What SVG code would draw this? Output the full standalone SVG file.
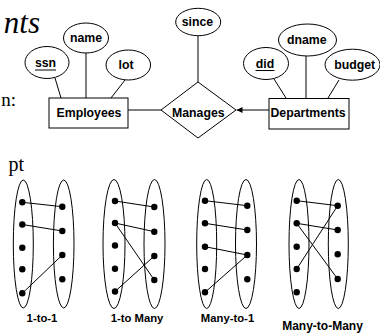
<svg xmlns="http://www.w3.org/2000/svg" width="380" height="334" viewBox="0 0 380 334">
<defs>
<style>
.s{fill:none;stroke:#000;stroke-width:1}
.b{fill:#fff;stroke:#000;stroke-width:1}
.t{font-family:"Liberation Sans",Arial,sans-serif;font-weight:bold;font-size:12.3px;text-anchor:middle;fill:#000}
.l{font-family:"Liberation Sans",Arial,sans-serif;font-weight:bold;font-size:11.3px;text-anchor:middle;fill:#000}
.bg{font-family:"Liberation Serif","Times New Roman",serif;fill:#000;text-anchor:end}
.d{fill:#000}
</style>
<marker id="ah" viewBox="0 0 10 10" refX="10" refY="5" markerWidth="6" markerHeight="6" markerUnits="userSpaceOnUse" orient="auto">
<path d="M0,0 L10,5 L0,10 z" fill="#000"/>
</marker>
</defs>
<rect width="380" height="334" fill="#fff"/>
<text class="bg" x="40" y="33" font-size="31" font-style="italic">nts</text>
<text class="bg" x="16" y="106" font-size="19">n:</text>
<text class="bg" x="24" y="171" font-size="20">pt</text>

<g id="connectors">
<line class="s" x1="55" y1="78" x2="61" y2="98"/>
<line class="s" x1="86" y1="53" x2="86" y2="98"/>
<line class="s" x1="125" y1="80" x2="111" y2="98"/>
<line class="s" x1="198" y1="36" x2="198" y2="82"/>
<line class="s" x1="274" y1="79" x2="286" y2="98"/>
<line class="s" x1="306" y1="56" x2="306" y2="98"/>
<line class="s" x1="339" y1="80" x2="328" y2="98"/>
<line class="s" x1="128" y1="110" x2="161" y2="110"/>
<line class="s" x1="269" y1="110" x2="236.5" y2="110" marker-end="url(#ah)"/>
</g>

<g id="Employees"><rect class="b" x="49" y="98" width="79" height="30"/><text class="t" x="89" y="116.5">Employees</text></g>
<g id="Manages"><polygon class="b" points="161,110 198,82 236,110 198,138"/><text class="t" x="198.3" y="116.5">Manages</text></g>
<g id="Departments"><rect class="b" x="269" y="98.5" width="80" height="30.5"/><text class="t" x="308" y="116.8">Departments</text></g>
<g id="ssn"><ellipse class="b" cx="47" cy="62.5" rx="22" ry="16"/><text class="t" x="45.5" y="66.7">ssn</text><line class="s" x1="35" y1="70" x2="56" y2="70"/></g>
<g id="name"><ellipse class="b" cx="86" cy="38" rx="22.5" ry="15"/><text class="t" x="86" y="42">name</text></g>
<g id="lot"><ellipse class="b" cx="128.3" cy="65" rx="22.3" ry="15"/><text class="t" x="126" y="69.2">lot</text></g>
<g id="since"><ellipse class="b" cx="198.2" cy="22" rx="22.5" ry="13.7"/><text class="t" x="197.5" y="26.3">since</text></g>
<g id="did"><ellipse class="b" cx="266" cy="63.5" rx="22.5" ry="16"/><text class="t" x="265" y="68">did</text><line class="s" x1="255.5" y1="70.5" x2="274.5" y2="70.5"/></g>
<g id="dname"><ellipse class="b" cx="307.5" cy="40" rx="29" ry="16"/><text class="t" x="306.7" y="43.8">dname</text></g>
<g id="budget"><ellipse class="b" cx="352.5" cy="64.7" rx="27.5" ry="15.5"/><text class="t" x="354.7" y="68.7">budget</text></g>

<g id="one-to-one">
<ellipse class="s" cx="23.3" cy="244" rx="10" ry="64"/>
<ellipse class="s" cx="63.7" cy="244" rx="10.3" ry="64"/>
<line class="s" x1="22.3" y1="202.3" x2="62.3" y2="206.7"/>
<line class="s" x1="22.3" y1="224.5" x2="62.3" y2="231"/>
<line class="s" x1="22.3" y1="293.3" x2="62.3" y2="255"/>
<circle class="d" cx="22.3" cy="202.3" r="3.2"/><circle class="d" cx="22.3" cy="224.5" r="3.2"/><circle class="d" cx="22.3" cy="247.7" r="3.2"/><circle class="d" cx="22.3" cy="269.3" r="3.2"/><circle class="d" cx="22.3" cy="293.3" r="3.2"/>
<circle class="d" cx="62.3" cy="206.7" r="3.2"/><circle class="d" cx="62.3" cy="231" r="3.2"/><circle class="d" cx="62.3" cy="255" r="3.2"/><circle class="d" cx="62.3" cy="279.3" r="3.2"/>
<text class="l" x="42" y="321.5">1-to-1</text>
</g>

<g id="one-to-many">
<ellipse class="s" cx="114" cy="244" rx="11" ry="64.5"/>
<ellipse class="s" cx="154.5" cy="244" rx="10.5" ry="64.5"/>
<line class="s" x1="115" y1="201" x2="154.3" y2="207"/>
<line class="s" x1="115" y1="223" x2="154.3" y2="231.7"/>
<line class="s" x1="115" y1="223" x2="154.3" y2="280"/>
<line class="s" x1="115" y1="291.5" x2="154.3" y2="256"/>
<circle class="d" cx="115" cy="201" r="3.2"/><circle class="d" cx="115" cy="223" r="3.2"/><circle class="d" cx="115" cy="245.5" r="3.2"/><circle class="d" cx="115" cy="268.7" r="3.2"/><circle class="d" cx="115" cy="291.5" r="3.2"/>
<circle class="d" cx="154.3" cy="207" r="3.2"/><circle class="d" cx="154.3" cy="231.7" r="3.2"/><circle class="d" cx="154.3" cy="256" r="3.2"/><circle class="d" cx="154.3" cy="280" r="3.2"/>
<text class="l" x="137" y="322">1-to Many</text>
</g>

<g id="many-to-one">
<ellipse class="s" cx="206.7" cy="244" rx="10" ry="64.5"/>
<ellipse class="s" cx="246" cy="244" rx="10.5" ry="64.5"/>
<line class="s" x1="205" y1="200.7" x2="247.3" y2="205.7"/>
<line class="s" x1="205" y1="223.3" x2="247.3" y2="230"/>
<line class="s" x1="205" y1="246.7" x2="247.3" y2="255"/>
<line class="s" x1="205" y1="292.3" x2="247.3" y2="255"/>
<circle class="d" cx="205" cy="200.7" r="3.2"/><circle class="d" cx="205" cy="223.3" r="3.2"/><circle class="d" cx="205" cy="246.7" r="3.2"/><circle class="d" cx="205" cy="269" r="3.2"/><circle class="d" cx="205" cy="292.3" r="3.2"/>
<circle class="d" cx="247.3" cy="205.7" r="3.2"/><circle class="d" cx="247.3" cy="230" r="3.2"/><circle class="d" cx="247.3" cy="255" r="3.2"/><circle class="d" cx="247.3" cy="279.3" r="3.2"/>
<text class="l" x="227.5" y="321.5">Many-to-1</text>
</g>

<g id="many-to-many">
<ellipse class="s" cx="299" cy="244" rx="10" ry="64.5"/>
<ellipse class="s" cx="338.3" cy="244" rx="10" ry="64.5"/>
<line class="s" x1="296.7" y1="200.7" x2="337.7" y2="205.7"/>
<line class="s" x1="296.7" y1="223.3" x2="337.7" y2="230"/>
<line class="s" x1="296.7" y1="223.3" x2="337.7" y2="279"/>
<line class="s" x1="296.7" y1="269" x2="337.7" y2="205.7"/>
<circle class="d" cx="296.7" cy="200.7" r="3.2"/><circle class="d" cx="296.7" cy="223.3" r="3.2"/><circle class="d" cx="296.7" cy="246.7" r="3.2"/><circle class="d" cx="296.7" cy="269" r="3.2"/><circle class="d" cx="296.7" cy="292.3" r="3.2"/>
<circle class="d" cx="337.7" cy="205.7" r="3.2"/><circle class="d" cx="337.7" cy="230" r="3.2"/><circle class="d" cx="337.7" cy="254.3" r="3.2"/><circle class="d" cx="337.7" cy="279" r="3.2"/>
<text class="l" x="322.5" y="330" style="font-size:12px">Many-to-Many</text>
</g>
</svg>
